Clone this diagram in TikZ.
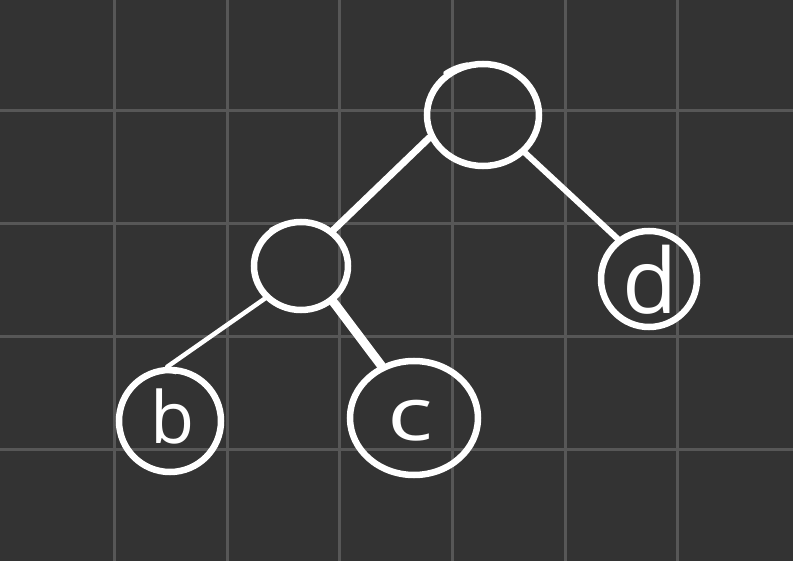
\documentclass[tikz,border=0pt]{standalone}
\usepackage{fontspec}
\setmainfont{Open Sans}
\usetikzlibrary{shapes.geometric}
\definecolor{bg}{HTML}{333333}
\definecolor{gridc}{HTML}{575757}
\tikzset{
  vert/.style={ellipse, draw=white, line width=6.5pt, inner sep=0pt},
  edge/.style={draw=white, line width=6pt, line cap=round},
  lbl/.style={text=white, inner sep=0pt},
  gridline/.style={draw=gridc, line width=3pt}
}
\begin{document}
\begin{tikzpicture}[x=1pt,y=-1pt]
\fill[bg] (0,0) rectangle (793,561);
\useasboundingbox (0,0) rectangle (793,561);
\foreach \gx in {114,227,339,452,565,677} \draw[gridline] (\gx,0) -- (\gx,561);
\foreach \gy in {111,224,337,449} \draw[gridline] (0,\gy) -- (793,\gy);
% vertices
\node[vert, minimum width=112pt, minimum height=102pt] (root) at (483,115) {};
\node[vert, minimum width=94pt, minimum height=88pt] (mid) at (301,266) {};
\node[vert, minimum width=102pt, minimum height=102pt] (b) at (170,421) {};
\node[vert, minimum width=128pt, minimum height=114pt] (c) at (414,418) {};
\node[vert, minimum width=96pt, minimum height=96pt] (d) at (649,279) {};
% hand-drawn overlap tails
\draw[white, line width=3pt, line cap=round] (root.128) ++(-4,2) arc[start angle=128, end angle=100, x radius=52pt, y radius=46pt];
\draw[white, line width=3pt, line cap=round] (mid.125) ++(-3,3) arc[start angle=125, end angle=100, x radius=44pt, y radius=40pt];
\draw[white, line width=3pt, line cap=round] (b.110) ++(-3,4) arc[start angle=110, end angle=75, x radius=46pt, y radius=46pt];
\draw[white, line width=3pt, line cap=round] (c.118) ++(-2,4) arc[start angle=118, end angle=95, x radius=60pt, y radius=52pt];
\draw[white, line width=3pt, line cap=round] (d.125) ++(-2,4) arc[start angle=125, end angle=95, x radius=44pt, y radius=44pt];
% labels
\node[lbl, font=\fontsize{72}{72}\selectfont] at (173,416) {b};
\node[lbl, font=\fontsize{74}{74}\selectfont, xscale=1.3] at (410,421) {c};
\node[lbl, font=\fontsize{90}{90}\selectfont] at (650,280) {d};
% edges
\draw[edge, line width=7pt] (root.203) -- (mid.48);
\draw[edge] (root.-42) -- (d.128);
\draw[edge, line width=4.5pt] (mid.222) -- (b.93);
\draw[edge, line width=9pt] (mid.-48) -- (c.122);
\end{tikzpicture}
\end{document}
